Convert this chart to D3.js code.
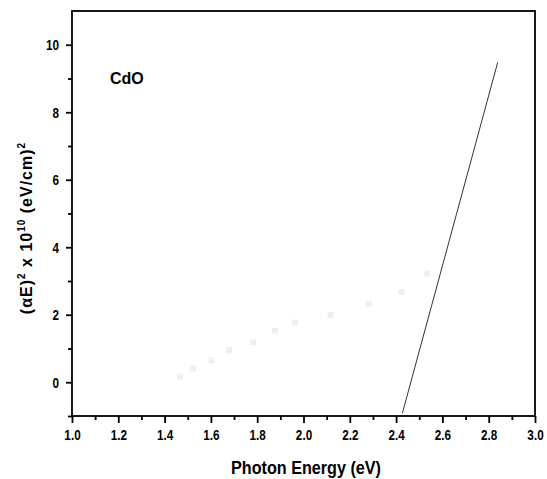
<!doctype html>
<html lang="en">
<head>
  <meta charset="utf-8" />
  <title>CdO Tauc plot</title>
  <script src="https://d3js.org/d3.v7.min.js"></script>
  <style>
    body { margin: 0; background: #fff; }
    svg { display: block; }
  </style>
</head>
<body>
  <div id="chart"></div>
  <script>
    // data
    const energy = [1.468, 1.523, 1.602, 1.679, 1.783, 1.877, 1.963, 2.117, 2.282, 2.424, 2.535];
    const alphaE2 = [0.17, 0.41, 0.65, 0.95, 1.18, 1.53, 1.77, 1.99, 2.32, 2.67, 3.22];
    // linear fit (extrapolated to the x axis)
    const fitX = [2.427, 2.839];
    const fitY = [-0.92, 9.48];
    const xTicks = [1.0, 1.2, 1.4, 1.6, 1.8, 2.0, 2.2, 2.4, 2.6, 2.8, 3.0];
    const yTicks = [0, 2, 4, 6, 8, 10];

    const width = 547, height = 479;
    const plotLeft = 72, plotRight = 535, plotTop = 11, plotBottom = 416;

    const svg = d3.select("#chart").append("svg")
      .attr("width", width)
      .attr("height", height);

    const x = d3.scaleLinear().domain([1.0, 3.0]).range([plotLeft, plotRight]);
    const y = d3.scaleLinear().domain([-1, 11]).range([plotBottom, plotTop]);

    const font = "'Liberation Sans', Arial, sans-serif";

    // minor ticks
    const xMinor = d3.range(1.1, 3.0, 0.2);
    const yMinor = [-1, 1, 3, 5, 7, 9];

    svg.append("g")
      .attr("transform", `translate(0,${plotBottom})`)
      .call(d3.axisBottom(x).tickValues(xMinor).tickSize(4).tickFormat(""))
      .call(g => g.select(".domain").remove());
    svg.append("g")
      .attr("transform", `translate(${plotLeft},0)`)
      .call(d3.axisLeft(y).tickValues(yMinor).tickSize(4).tickFormat(""))
      .call(g => g.select(".domain").remove());

    const xAxis = svg.append("g")
      .attr("transform", `translate(0,${plotBottom})`)
      .call(d3.axisBottom(x).tickValues(xTicks).tickSize(7).tickPadding(6).tickFormat(d3.format(".1f")));
    xAxis.select(".domain").remove();

    const yAxis = svg.append("g")
      .attr("transform", `translate(${plotLeft},0)`)
      .call(d3.axisLeft(y).tickValues(yTicks).tickSize(6).tickPadding(7).tickFormat(d3.format("d")));
    yAxis.select(".domain").remove();

    svg.selectAll(".tick line").attr("stroke", "#000").attr("stroke-width", 1.8);
    // condensed bold tick labels, like the original
    svg.selectAll(".tick text")
      .style("font-family", font)
      .style("font-weight", "bold")
      .style("font-size", "15px")
      .attr("fill", "#000")
      .each(function () {
        const w = this.getComputedTextLength();
        d3.select(this)
          .attr("textLength", w * 0.78)
          .attr("lengthAdjust", "spacingAndGlyphs");
      });

    // frame
    svg.append("rect")
      .attr("x", plotLeft).attr("y", plotTop)
      .attr("width", plotRight - plotLeft).attr("height", plotBottom - plotTop)
      .attr("fill", "none")
      .attr("stroke", "#000")
      .attr("stroke-width", 1.8);

    // data points (very faint squares)
    svg.append("g")
      .selectAll("rect")
      .data(energy.map((e, i) => [e, alphaE2[i]]))
      .join("rect")
      .attr("x", d => x(d[0]) - 2.5)
      .attr("y", d => y(d[1]) - 2.5)
      .attr("width", 5)
      .attr("height", 5)
      .attr("fill", "#f0f0f0")
      .attr("stroke", "#e8e8e8")
      .attr("stroke-width", 0.6);

    // fitted line
    svg.append("path")
      .datum(fitX.map((e, i) => [e, fitY[i]]))
      .attr("d", d3.line().x(d => x(d[0])).y(d => y(d[1])))
      .attr("fill", "none")
      .attr("stroke", "#333")
      .attr("stroke-width", 1);

    // sample label
    svg.append("text")
      .attr("x", x(1.164))
      .attr("y", y(8.83))
      .text("CdO")
      .style("font-family", font)
      .style("font-weight", "bold")
      .style("font-size", "16px");

    // axis titles
    svg.append("text")
      .attr("x", 306)
      .attr("y", 474)
      .attr("text-anchor", "middle")
      .attr("textLength", 150)
      .attr("lengthAdjust", "spacingAndGlyphs")
      .text("Photon Energy (eV)")
      .style("font-family", font)
      .style("font-weight", "bold")
      .style("font-size", "18px");

    const yTitle = svg.append("text")
      .attr("transform", "translate(32,228) rotate(-90)")
      .attr("text-anchor", "middle")
      .style("font-family", font)
      .style("font-weight", "bold")
      .style("font-size", "16px")
      .style("letter-spacing", "1px");
    yTitle.append("tspan").text("(αE)");
    yTitle.append("tspan").attr("dy", -7).style("font-size", "10px").text("2");
    yTitle.append("tspan").attr("dy", 7).text(" x 10");
    yTitle.append("tspan").attr("dy", -7).style("font-size", "10px").text("10");
    yTitle.append("tspan").attr("dy", 7).text(" (eV/cm)");
    yTitle.append("tspan").attr("dy", -7).style("font-size", "10px").text("2");
  </script>
</body>
</html>
